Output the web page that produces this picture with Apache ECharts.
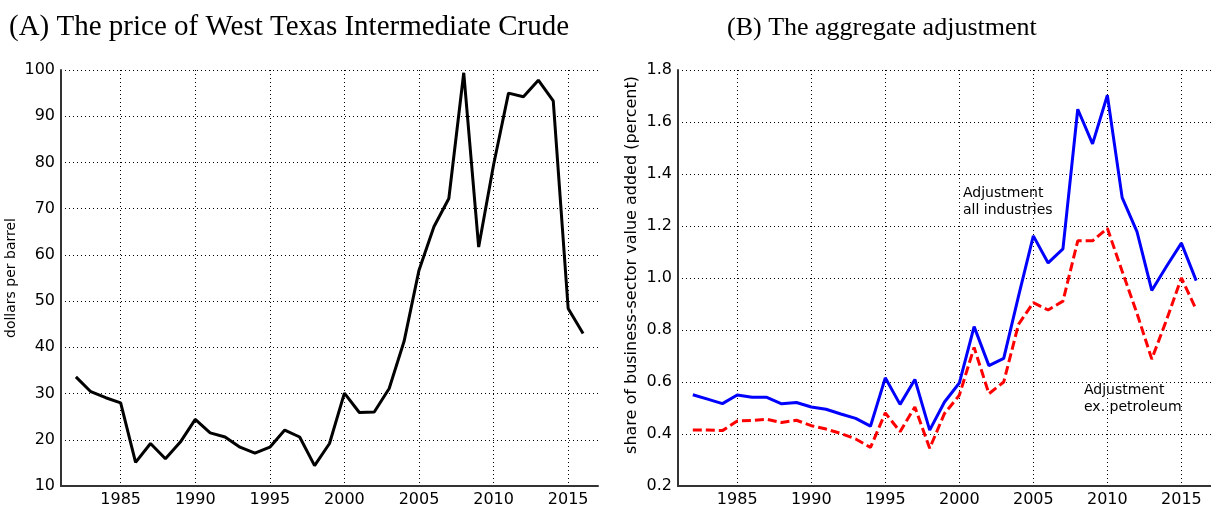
<!DOCTYPE html>
<html>
<head>
<meta charset="utf-8">
<script src="https://cdn.jsdelivr.net/npm/echarts@6/dist/echarts.min.js"></script>
<style>
html,body{margin:0;padding:0;background:#fff;}
#c{width:1211px;height:508px;}
</style>
</head>
<body>
<div id="c"></div>
<script>
// ---- data ----
const years = [1982,1983,1984,1985,1986,1987,1988,1989,1990,1991,1992,1993,1994,1995,1996,1997,1998,1999,2000,2001,2002,2003,2004,2005,2006,2007,2008,2009,2010,2011,2012,2013,2014,2015,2016];
const wtiPrice = [33.6,30.4,29.1,28.0,15.1,19.2,15.9,19.5,24.4,21.5,20.6,18.4,17.1,18.4,22.1,20.6,14.4,19.2,30.1,25.9,26.0,31.1,41.3,56.7,66.1,72.2,99.4,61.7,79.5,95.0,94.2,97.8,93.3,48.4,43.0];
const adjAllIndustries = [0.551,0.534,0.517,0.550,0.541,0.541,0.516,0.521,0.504,0.495,0.477,0.460,0.430,0.616,0.514,0.610,0.415,0.523,0.596,0.813,0.663,0.691,0.930,1.162,1.058,1.112,1.649,1.516,1.703,1.309,1.178,0.952,1.045,1.134,0.990];
const adjExPetroleum = [0.415,0.415,0.413,0.450,0.452,0.457,0.444,0.453,0.432,0.419,0.402,0.381,0.348,0.481,0.409,0.504,0.345,0.479,0.549,0.733,0.555,0.600,0.822,0.905,0.877,0.911,1.143,1.143,1.191,1.026,0.864,0.688,0.839,1.000,0.879];
const xTicks = [1985,1990,1995,2000,2005,2010,2015];
const leftYTicks = [10,20,30,40,50,60,70,80,90,100];
const rightYTicks = [0.2,0.4,0.6,0.8,1.0,1.2,1.4,1.6,1.8];
const titleA = '(A) The price of West Texas Intermediate Crude';
const titleB = '(B) The aggregate adjustment';
const yNameA = 'dollars per barrel';
const yNameB = 'share of business-sector value added (percent)';
const noteAll = 'Adjustment\nall industries';
const noteEx = 'Adjustment\nex. petroleum';

const pairs = (vals) => years.map((y, i) => [y, vals[i]]);

const sans = 'DejaVu Sans';
const serif = 'Liberation Serif';

function xAxisFor(gridIndex) {
  return {
    type: 'value', gridIndex, min: 1981, max: 2017,
    axisLine: {show: true, lineStyle: {color: '#333', width: 2}},
    axisTick: {show: false, customValues: xTicks},
    axisLabel: {customValues: xTicks, fontFamily: sans, fontSize: 16, color: '#000', margin: 6,
      formatter: v => String(v)},
    splitLine: {show: true, lineStyle: {color: '#000', type: [1, 3], width: 1}}
  };
}
function yAxisFor(gridIndex, mn, mx, ticks, name, gap, fmt) {
  return {
    type: 'value', gridIndex, min: mn, max: mx,
    name, nameLocation: 'middle', nameRotate: 90, nameGap: gap,
    nameTextStyle: {fontFamily: sans, fontSize: 14, color: '#000'},
    axisLine: {show: true, lineStyle: {color: '#333', width: 2}},
    axisTick: {show: false, customValues: ticks},
    axisLabel: {customValues: ticks, fontFamily: sans, fontSize: 16, color: '#000', margin: 6, formatter: fmt},
    splitLine: {show: true, lineStyle: {color: '#000', type: [1, 3], width: 1}}
  };
}

const chart = echarts.init(document.getElementById('c'), null, {renderer: 'canvas'});
chart.setOption({
  backgroundColor: '#fff',
  animation: false,
  title: [
    {text: titleA, left: 9, top: 13, padding: 0, textStyle: {fontFamily: serif, fontSize: 29, fontWeight: 'normal', color: '#000'}},
    {text: titleB, left: 727, top: 15, padding: 0, textStyle: {fontFamily: serif, fontSize: 26, fontWeight: 'normal', color: '#000'}}
  ],
  grid: [
    {left: 61, top: 70, width: 537, height: 416},
    {left: 678, top: 70, width: 541, height: 420}
  ],
  xAxis: [xAxisFor(0), xAxisFor(1)],
  yAxis: [
    yAxisFor(0, 10, 100, leftYTicks, yNameA, 43, v => String(v)),
    Object.assign(yAxisFor(1, 0.2, 1.8, rightYTicks, '', 42, v => v.toFixed(1)), {name: ''})
  ],
  graphic: [
    {type: 'text', x: 632, y: 265, rotation: Math.PI / 2,
      style: {text: yNameB, fontFamily: sans, fontSize: 16, fill: '#000', align: 'center', verticalAlign: 'middle'}},
    {type: 'text', left: 963, top: 185, style: {text: noteAll, fontFamily: sans, fontSize: 14, lineHeight: 17, fill: '#000'}},
    {type: 'text', left: 1084, top: 382, style: {text: noteEx, fontFamily: sans, fontSize: 14, lineHeight: 17, fill: '#000'}}
  ],
  series: [
    {type: 'line', xAxisIndex: 0, yAxisIndex: 0, data: pairs(wtiPrice), showSymbol: false,
      lineStyle: {color: '#000', width: 3}},
    {type: 'line', xAxisIndex: 1, yAxisIndex: 1, data: pairs(adjAllIndustries), showSymbol: false,
      lineStyle: {color: '#0000ff', width: 3}},
    {type: 'line', xAxisIndex: 1, yAxisIndex: 1, data: pairs(adjExPetroleum), showSymbol: false,
      lineStyle: {color: '#ff0000', width: 3, type: [9, 4]}}
  ]
});
</script>
</body>
</html>
